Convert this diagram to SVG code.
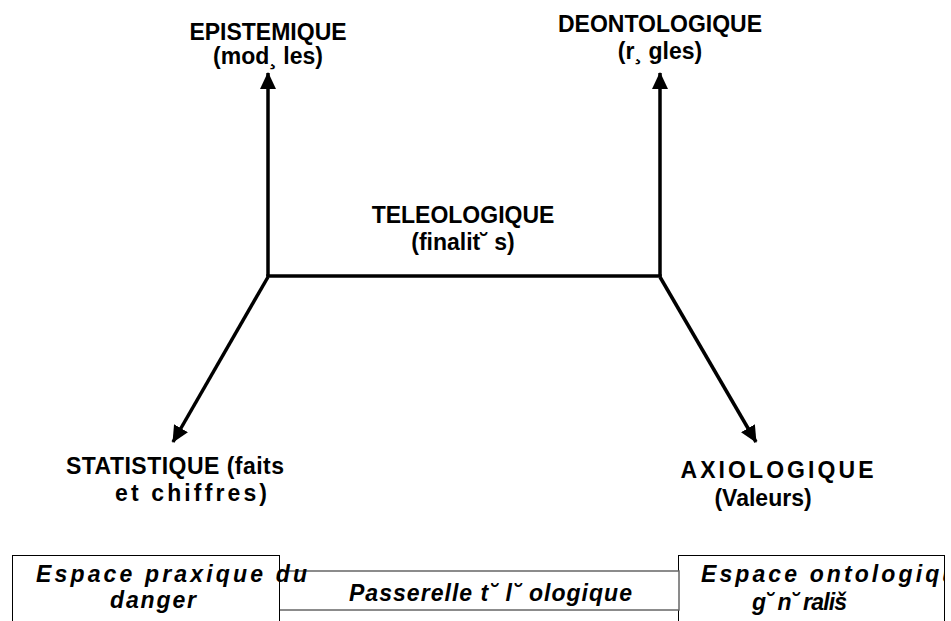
<svg xmlns="http://www.w3.org/2000/svg" width="951" height="621" viewBox="0 0 951 621">
<style>
.t{font-family:"Liberation Sans",Arial,sans-serif;font-weight:bold;font-size:23px;fill:#000;text-anchor:middle}
.b{font-family:"Liberation Sans",Arial,sans-serif;font-weight:bold;font-style:italic;font-size:23px;fill:#000}
.c{stroke:#000;stroke-width:3.5;fill:none}
.box{fill:#fff;stroke:#000;stroke-width:1}
.gbox{fill:#fff;stroke:#666;stroke-width:1.5}
</style>
<defs>
<marker id="arr" viewBox="0 0 17 16" refX="16" refY="8" markerWidth="17" markerHeight="16" markerUnits="userSpaceOnUse" orient="auto">
<polygon points="0,0 17,8 0,16" fill="#000"/>
</marker>
</defs>
<g id="connectors">
<line class="c" x1="268" y1="276" x2="268" y2="73" marker-end="url(#arr)"/>
<line class="c" x1="660" y1="276" x2="660" y2="73" marker-end="url(#arr)"/>
<line class="c" x1="266.25" y1="276" x2="661.75" y2="276"/>
<line class="c" x1="268" y1="277" x2="173" y2="442" marker-end="url(#arr)"/>
<line class="c" x1="660" y1="277" x2="756" y2="442" marker-end="url(#arr)"/>
</g>
<g id="epistemique">
<text class="t" x="268" y="40">EPISTEMIQUE</text>
<text class="t" x="268" y="64">(mod¸ les)</text>
</g>
<g id="deontologique">
<text class="t" x="660" y="32">DEONTOLOGIQUE</text>
<text class="t" x="660" y="59">(r¸ gles)</text>
</g>
<g id="teleologique">
<text class="t" x="463" y="223">TELEOLOGIQUE</text>
<text class="t" x="463" y="250">(finalit˘ s)</text>
</g>
<g id="statistique">
<text class="t" x="175" y="474" textLength="218">STATISTIQUE (faits</text>
<text class="t" x="191" y="501" textLength="152">et chiffres)</text>
</g>
<g id="axiologique">
<text class="t" x="777" y="478" textLength="193">AXIOLOGIQUE</text>
<text class="t" x="763" y="506">(Valeurs)</text>
</g>
<g id="ontologique">
<rect class="box" x="678.5" y="555.5" width="266" height="70"/>
<svg x="678" y="555" width="267" height="66" overflow="hidden">
<text class="b" x="23" y="27" letter-spacing="3.1">Espace ontologique</text>
</svg>
<text class="b" x="752" y="610" textLength="95">g˘ n˘ rališ</text>
</g>
<g id="passerelle">
<rect class="gbox" x="279" y="571" width="400" height="39"/>
<text class="b" x="349" y="601" textLength="283">Passerelle t˘ l˘ ologique</text>
</g>
<g id="praxique">
<rect class="box" x="12.5" y="555.5" width="267" height="70"/>
<text class="b" x="36" y="582" textLength="271">Espace praxique du</text>
<text class="b" x="110" y="608" textLength="86">danger</text>
</g>
</svg>
